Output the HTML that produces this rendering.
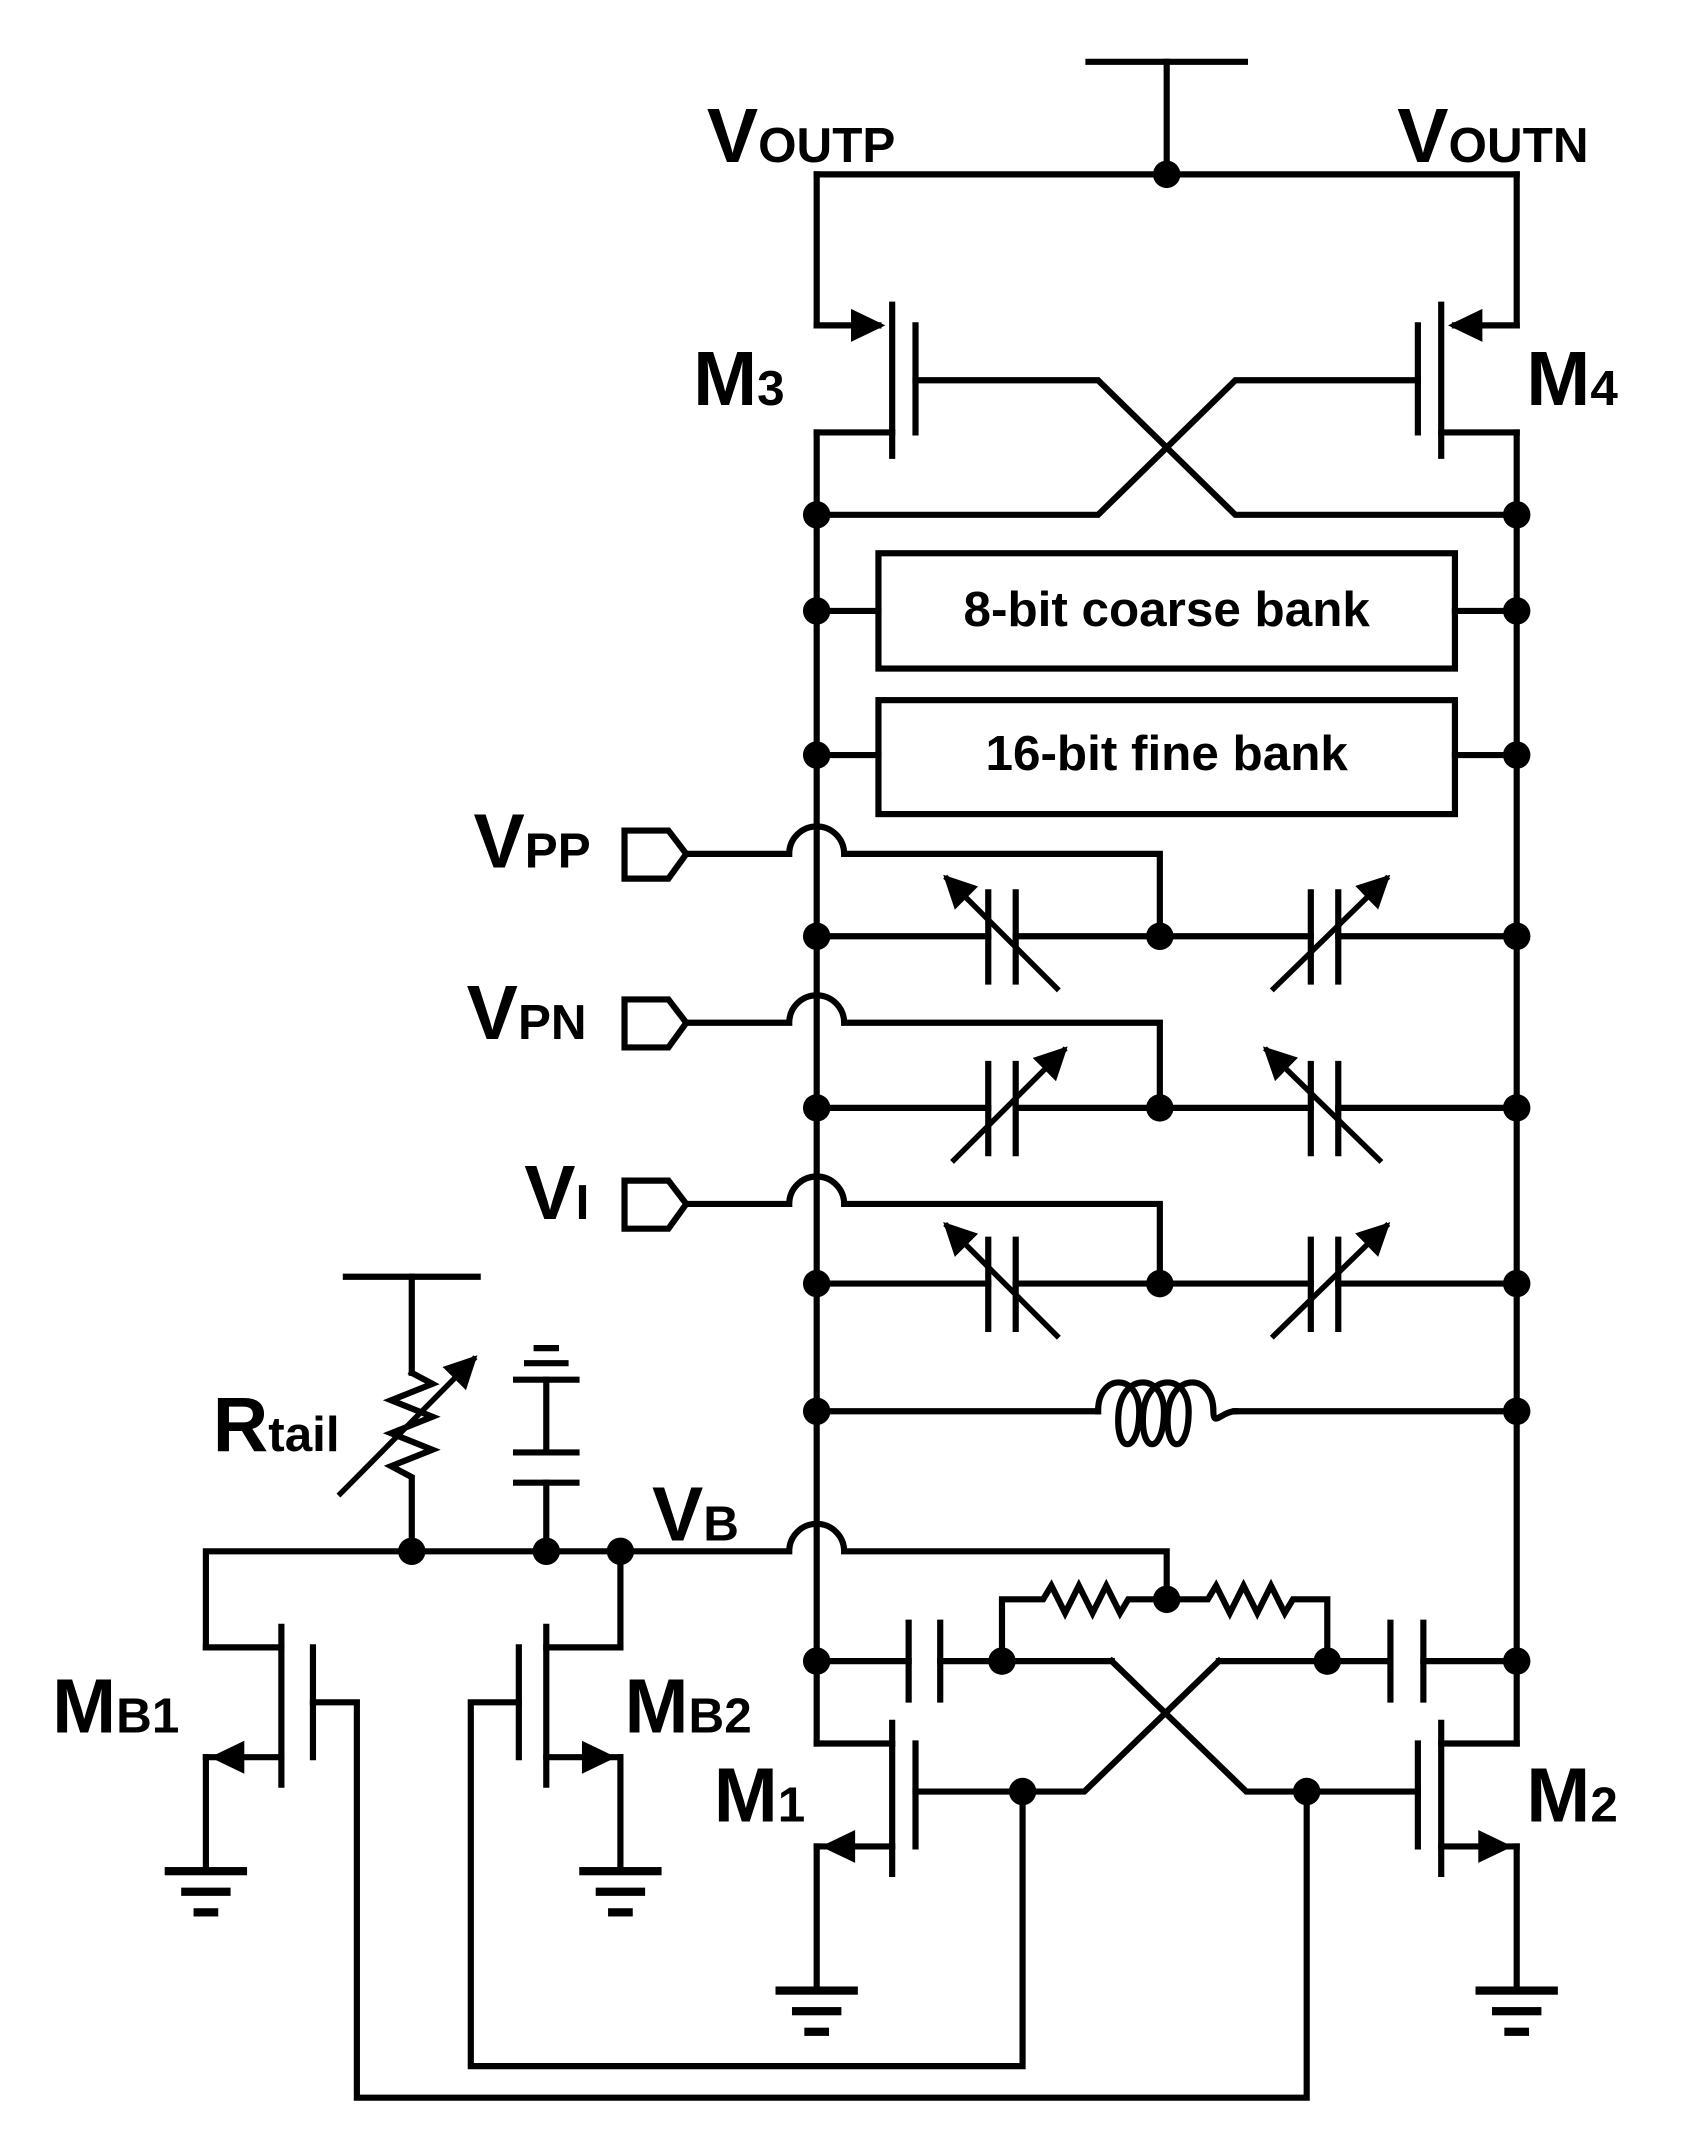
<!DOCTYPE html>
<html><head><style>html,body{margin:0;padding:0;background:#fff}svg{display:block}</style></head>
<body>
<svg width="1702" height="2132" viewBox="0 0 1240 1553" preserveAspectRatio="none" xmlns="http://www.w3.org/2000/svg">
<defs>
<marker id="ah" markerWidth="6" markerHeight="6" refX="5" refY="3" orient="auto" markerUnits="strokeWidth"><path d="M0,0 L6,3 L0,6 z" fill="#000"/></marker>
<g id="g1" fill="#000"><rect x="-30" y="-3" width="60" height="6"/><rect x="-18" y="12" width="36" height="6"/><rect x="-9" y="27" width="18" height="6"/></g>
</defs>
<g stroke="#000" stroke-width="4.5" fill="none" stroke-linecap="square">
<line x1="793" y1="45" x2="907" y2="45"/><line x1="850" y1="45" x2="850" y2="127"/>
<line x1="595" y1="127" x2="1105" y2="127"/>
<line x1="595" y1="127" x2="595" y2="237"/><line x1="1105" y1="127" x2="1105" y2="237"/>
<line x1="595" y1="315" x2="595" y2="1270"/><line x1="1105" y1="315" x2="1105" y2="1270"/>
<line x1="595" y1="237" x2="640" y2="237"/><line x1="650" y1="222" x2="650" y2="332"/><line x1="667" y1="237" x2="667" y2="315"/>
<line x1="650" y1="315" x2="595" y2="315"/>
<polyline points="667,277 800,277 900,375 1105,375"/>
<line x1="1105" y1="237" x2="1060" y2="237"/><line x1="1050" y1="222" x2="1050" y2="332"/><line x1="1033" y1="237" x2="1033" y2="315"/>
<line x1="1050" y1="315" x2="1105" y2="315"/>
<polyline points="1033,277 900,277 800,375 595,375"/>
<rect x="640" y="403" width="420" height="84"/><rect x="640" y="510" width="420" height="83"/>
<line x1="595" y1="445" x2="640" y2="445"/><line x1="1060" y1="445" x2="1105" y2="445"/>
<line x1="595" y1="550" x2="640" y2="550"/><line x1="1060" y1="550" x2="1105" y2="550"/>
<path d="M455,605 H487 L500,622 L487,640 H455 Z"/>
<path d="M455,728 H487 L500,745 L487,763 H455 Z"/>
<path d="M455,860 H487 L500,877 L487,895 H455 Z"/>
<path d="M500,622 H575 A20,20 0 0 1 615,622 H845 V682"/>
<path d="M500,745 H575 A20,20 0 0 1 615,745 H845 V807"/>
<path d="M500,877 H575 A20,20 0 0 1 615,877 H845 V935"/>
<line x1="595" y1="682" x2="720" y2="682"/><line x1="740" y1="682" x2="955" y2="682"/><line x1="975" y1="682" x2="1105" y2="682"/>
<line x1="595" y1="807" x2="720" y2="807"/><line x1="740" y1="807" x2="955" y2="807"/><line x1="975" y1="807" x2="1105" y2="807"/>
<line x1="595" y1="935" x2="720" y2="935"/><line x1="740" y1="935" x2="955" y2="935"/><line x1="975" y1="935" x2="1105" y2="935"/>
<g stroke-width="4.5">
<line x1="720" y1="650" x2="720" y2="715"/><line x1="740" y1="650" x2="740" y2="715"/>
<line x1="955" y1="650" x2="955" y2="715"/><line x1="975" y1="650" x2="975" y2="715"/>
<line x1="720" y1="775" x2="720" y2="840"/><line x1="740" y1="775" x2="740" y2="840"/>
<line x1="955" y1="775" x2="955" y2="840"/><line x1="975" y1="775" x2="975" y2="840"/>
<line x1="720" y1="903" x2="720" y2="968"/><line x1="740" y1="903" x2="740" y2="968"/>
<line x1="955" y1="903" x2="955" y2="968"/><line x1="975" y1="903" x2="975" y2="968"/>
</g>
<g stroke-width="4" marker-end="url(#ah)">
<line x1="770" y1="720" x2="690" y2="640"/><line x1="928" y1="720" x2="1010" y2="640"/>
<line x1="695" y1="845" x2="775" y2="765"/><line x1="1005" y1="845" x2="923" y2="765"/>
<line x1="770" y1="973" x2="690" y2="893"/><line x1="928" y1="973" x2="1010" y2="893"/>
</g>
<line x1="595" y1="1028" x2="800" y2="1028"/><line x1="900" y1="1028" x2="1105" y2="1028"/>
<path d="M800,1028 C800,1000 830,1000 830,1028 C830,1060 812,1060 815,1028 C818,1000 848,1000 848,1028 C848,1060 830,1060 833,1028 C836,1000 866,1000 866,1028 C866,1060 848,1060 851,1028 C854,1000 884,1000 884,1028 C884,1040 890,1028 900,1028"/>
<path d="M150,1200 V1130 H575 A20,20 0 0 1 615,1130 H850 V1165"/>
<path d="M730,1210 V1165 H760 l6,-10 l10,20 l10,-20 l10,20 l10,-20 l10,20 l6,-10 H880 l6,-10 l10,20 l10,-20 l10,20 l10,-20 l10,20 l6,-10 H967 V1210"/>
<line x1="595" y1="1210" x2="662" y2="1210"/><line x1="662" y1="1182" x2="662" y2="1238"/><line x1="685" y1="1182" x2="685" y2="1238"/>
<line x1="685" y1="1210" x2="810" y2="1210"/>
<line x1="888" y1="1210" x2="1013" y2="1210"/><line x1="1013" y1="1182" x2="1013" y2="1238"/><line x1="1037" y1="1182" x2="1037" y2="1238"/>
<line x1="1037" y1="1210" x2="1105" y2="1210"/>
<polyline points="810,1210 908,1305 1033,1305"/>
<polyline points="888,1210 790,1305 667,1305"/>
<line x1="595" y1="1270" x2="650" y2="1270"/><line x1="650" y1="1255" x2="650" y2="1365"/><line x1="667" y1="1270" x2="667" y2="1345"/>
<line x1="650" y1="1345" x2="595" y2="1345"/><line x1="595" y1="1345" x2="595" y2="1450"/>
<line x1="1105" y1="1270" x2="1050" y2="1270"/><line x1="1050" y1="1255" x2="1050" y2="1365"/><line x1="1033" y1="1270" x2="1033" y2="1345"/>
<line x1="1050" y1="1345" x2="1105" y2="1345"/><line x1="1105" y1="1345" x2="1105" y2="1450"/>
<polyline points="745,1305 745,1505 343,1505 343,1240 378,1240"/>
<polyline points="952,1305 952,1528 260,1528 260,1240 228,1240"/>
<line x1="150" y1="1200" x2="205" y2="1200"/><line x1="205" y1="1185" x2="205" y2="1300"/><line x1="228" y1="1200" x2="228" y2="1280"/>
<line x1="205" y1="1280" x2="150" y2="1280"/><line x1="150" y1="1280" x2="150" y2="1363"/>
<line x1="452" y1="1130" x2="452" y2="1200"/><line x1="452" y1="1200" x2="398" y2="1200"/><line x1="398" y1="1185" x2="398" y2="1300"/><line x1="378" y1="1200" x2="378" y2="1280"/>
<line x1="398" y1="1280" x2="452" y2="1280"/><line x1="452" y1="1280" x2="452" y2="1363"/>
<line x1="252" y1="930" x2="348" y2="930"/><line x1="300" y1="930" x2="300" y2="1000"/>
<path d="M300,1000 l15,8 l-30,12 l30,12 l-30,12 l30,12 l-30,12 l15,8 V1130"/>
<line x1="248" y1="1088" x2="345" y2="990" marker-end="url(#ah)" stroke-width="4"/>
<line x1="398" y1="1005" x2="398" y2="1058"/><line x1="376" y1="1058" x2="420" y2="1058"/><line x1="376" y1="1080" x2="420" y2="1080"/><line x1="398" y1="1080" x2="398" y2="1130"/>
<line x1="376" y1="1005" x2="420" y2="1005"/><line x1="384" y1="993" x2="412" y2="993"/><line x1="391" y1="982" x2="405" y2="982"/>
</g>
<g fill="#000">
<use href="#g1" transform="translate(150,1363)"/><use href="#g1" transform="translate(452,1363)"/>
<use href="#g1" transform="translate(595,1450)"/><use href="#g1" transform="translate(1105,1450)"/>
<path d="M645,237 l-25,-12 v24 z"/><path d="M1055,237 l25,-12 v24 z"/>
<path d="M598,1345 l25,-12 v24 z"/><path d="M1102,1345 l-25,-12 v24 z"/>
<path d="M153,1280 l25,-12 v24 z"/><path d="M449,1280 l-25,-12 v24 z"/>
<circle cx="850" cy="127" r="10"/>
<circle cx="595" cy="375" r="10"/><circle cx="1105" cy="375" r="10"/>
<circle cx="595" cy="445" r="10"/><circle cx="1105" cy="445" r="10"/>
<circle cx="595" cy="550" r="10"/><circle cx="1105" cy="550" r="10"/>
<circle cx="595" cy="682" r="10"/><circle cx="1105" cy="682" r="10"/><circle cx="845" cy="682" r="10"/>
<circle cx="595" cy="807" r="10"/><circle cx="1105" cy="807" r="10"/><circle cx="845" cy="807" r="10"/>
<circle cx="595" cy="935" r="10"/><circle cx="1105" cy="935" r="10"/><circle cx="845" cy="935" r="10"/>
<circle cx="595" cy="1028" r="10"/><circle cx="1105" cy="1028" r="10"/>
<circle cx="850" cy="1165" r="10"/><circle cx="730" cy="1210" r="10"/><circle cx="967" cy="1210" r="10"/>
<circle cx="595" cy="1210" r="10"/><circle cx="1105" cy="1210" r="10"/>
<circle cx="745" cy="1305" r="10"/><circle cx="952" cy="1305" r="10"/>
<circle cx="300" cy="1130" r="10"/><circle cx="398" cy="1130" r="10"/><circle cx="452" cy="1130" r="10"/>
</g>
<g font-family="Liberation Sans, sans-serif" font-weight="bold" fill="#000">
<text x="850" y="456" font-size="36" text-anchor="middle">8-bit coarse bank</text>
<text x="850" y="561" font-size="36" text-anchor="middle">16-bit fine bank</text>
<text x="515" y="118" font-size="56">V<tspan font-size="36">OUTP</tspan></text>
<text x="1018" y="118" font-size="56">V<tspan font-size="36">OUTN</tspan></text>
<text x="505" y="295" font-size="56">M<tspan font-size="36">3</tspan></text>
<text x="1112" y="295" font-size="56">M<tspan font-size="36">4</tspan></text>
<text x="345" y="632" font-size="56">V<tspan font-size="36">PP</tspan></text>
<text x="340" y="757" font-size="56">V<tspan font-size="36">PN</tspan></text>
<text x="382" y="888" font-size="56">V<tspan font-size="36">I</tspan></text>
<text x="155" y="1057" font-size="56">R<tspan font-size="36">tail</tspan></text>
<text x="475" y="1122" font-size="56">V<tspan font-size="36">B</tspan></text>
<text x="38" y="1262" font-size="56">M<tspan font-size="36">B1</tspan></text>
<text x="455" y="1262" font-size="56">M<tspan font-size="36">B2</tspan></text>
<text x="520" y="1327" font-size="56">M<tspan font-size="36">1</tspan></text>
<text x="1112" y="1327" font-size="56">M<tspan font-size="36">2</tspan></text>
</g>
</svg>
</body></html>
